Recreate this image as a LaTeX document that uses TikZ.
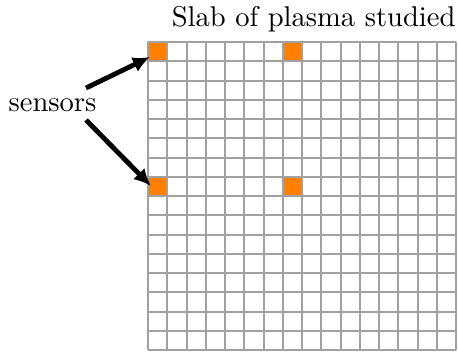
\documentclass[tikz,border=0pt]{standalone}
\usetikzlibrary{arrows.meta}
\begin{document}
\begin{tikzpicture}[x=0.35pt,y=-0.35pt,
  gridline/.style={draw=black!37,line width=0.7pt},
  sensorcell/.style={fill={rgb,255:red,255;green,128;blue,0},draw=none,inner sep=0pt,minimum size=6.7375pt},
  pointer/.style={line width=1.7pt,-{Latex[length=6pt,width=5.6pt]}}]
\useasboundingbox (0,0) rectangle (458,353);
% sensor cells
\node[sensorcell] (s1) at (157.625,51.625) {};
\node[sensorcell] (s2) at (292.375,51.625) {};
\node[sensorcell] (s3) at (157.625,186.375) {};
\node[sensorcell] (s4) at (292.375,186.375) {};
% grid
\foreach \i in {0,...,16}{
  \draw[gridline] ({148+19.25*\i},42) -- ({148+19.25*\i},350);
  \draw[gridline] (148,{42+19.25*\i}) -- (456,{42+19.25*\i});
}
\node[anchor=base east,inner sep=0pt,font=\fontsize{10}{12}\selectfont] (title) at (456,27) {Slab of plasma studied};
\node[anchor=base west,inner sep=0pt,font=\fontsize{10}{12}\selectfont] (sensors) at (8,111) {sensors};
\coordinate (a1) at (86,88);
\coordinate (a2) at (86,120);
\coordinate (t1) at (150,57);
\coordinate (t3) at (151,186);
\draw[pointer] (a1) -- (t1);
\draw[pointer] (a2) -- (t3);
\end{tikzpicture}
\end{document}
